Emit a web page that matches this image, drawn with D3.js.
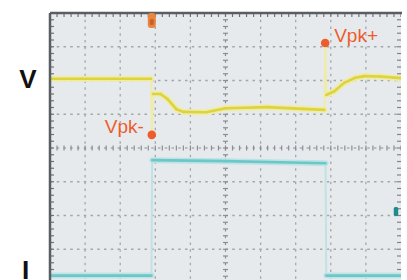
<!DOCTYPE html>
<html>
<head>
<meta charset="utf-8">
<script src="https://cdn.jsdelivr.net/npm/d3@7"></script>
<style>
  body { margin: 0; background: #fff; }
  svg { display: block; }
</style>
</head>
<body>
<script>
const W = 407, H = 280
const plot = {left: 50, right: 401, top: 13, bottom: 283}

// scope divisions: 10 across, 8 down
const divX = [0, 10]
const divY = [-4, 4]

// channel 1 (voltage), time in divisions, level in divisions
const vTime  = [0, 2.88, 2.9, 2.93, 3.15, 3.35, 3.6, 3.8, 4.45, 5.0, 6.2, 7.2, 7.82, 7.84, 7.87, 8.1, 8.38, 8.7, 8.95, 9.4, 10]
const vLevel = [2.05, 2.05, 0.39, 1.6, 1.6, 1.45, 1.15, 1.07, 1.06, 1.18, 1.21, 1.16, 1.13, 3.11, 1.57, 1.68, 1.93, 2.08, 2.13, 2.12, 2.07]

// channel 2 (current)
const iTime  = [0, 2.89, 2.91, 5, 7.85, 7.87, 10]
const iLevel = [-3.78, -3.78, -0.36, -0.39, -0.45, -3.78, -3.78]

// peak markers
const peakNames = ["Vpk-", "Vpk+"]
const peakTime  = [2.9, 7.84]
const peakLevel = [0.39, 3.11]

const orange = '#ee5c2c'

const x = d3.scaleLinear().domain(divX).range([plot.left, plot.right])
const y = d3.scaleLinear().domain(divY).range([plot.bottom, plot.top])

const svg = d3.select('body').append('svg')
  .attr('width', W).attr('height', H)

svg.append('rect').attr('width', W).attr('height', H).attr('fill', '#fff')

const clip = svg.append('clipPath').attr('id', 'clip')
clip.append('rect').attr('x', plot.left).attr('y', plot.top)
  .attr('width', plot.right - plot.left).attr('height', plot.bottom - plot.top)

svg.append('rect')
  .attr('x', plot.left).attr('y', plot.top)
  .attr('width', plot.right - plot.left).attr('height', plot.bottom - plot.top)
  .attr('fill', '#e7eaed')

const g = svg.append('g').attr('clip-path', 'url(#clip)')

// grid: dotted lines on every division
const xt = d3.range(1, 10), yt = d3.range(-3, 4)
const minorX = d3.range(0, 10.01, 0.2), minorY = d3.range(-4, 4.01, 0.2)

g.selectAll('.gx').data(xt.filter(d => d !== 5)).join('line')
  .attr('x1', d => x(d)).attr('x2', d => x(d))
  .attr('y1', plot.top).attr('y2', plot.bottom)
  .attr('stroke', '#a3a7ab').attr('stroke-width', 1.3)
  .attr('stroke-dasharray', '2.5 4.25')
g.selectAll('.gy').data(yt.filter(d => d !== 0)).join('line')
  .attr('y1', d => y(d)).attr('y2', d => y(d))
  .attr('x1', plot.left).attr('x2', plot.right)
  .attr('stroke', '#a3a7ab').attr('stroke-width', 1.3)
  .attr('stroke-dasharray', '2.5 4.25')

// centre lines with minor ticks
g.selectAll('.cx').data(minorY).join('line')
  .attr('x1', x(5) - 2.5).attr('x2', x(5) + 2.5)
  .attr('y1', d => y(d)).attr('y2', d => y(d))
  .attr('stroke', '#8a8e92').attr('stroke-width', 1.2)
g.selectAll('.cy').data(minorX).join('line')
  .attr('y1', y(0) - 2.5).attr('y2', y(0) + 2.5)
  .attr('x1', d => x(d)).attr('x2', d => x(d))
  .attr('stroke', '#8a8e92').attr('stroke-width', 1.2)
g.append('line').attr('x1', x(5)).attr('x2', x(5)).attr('y1', plot.top).attr('y2', plot.bottom)
  .attr('stroke', '#8a8e92').attr('stroke-width', 1.2).attr('stroke-dasharray', '2.5 4.25')
g.append('line').attr('y1', y(0)).attr('y2', y(0)).attr('x1', plot.left).attr('x2', plot.right)
  .attr('stroke', '#8a8e92').attr('stroke-width', 1.2).attr('stroke-dasharray', '2.5 4.25')

// border ticks
g.selectAll('.lt').data(minorY).join('line')
  .attr('x1', plot.left).attr('x2', plot.left + 4)
  .attr('y1', d => y(d)).attr('y2', d => y(d))
  .attr('stroke', '#6f7377').attr('stroke-width', 1.2)
g.selectAll('.rt').data(minorY).join('line')
  .attr('x1', plot.right - 4).attr('x2', plot.right)
  .attr('y1', d => y(d)).attr('y2', d => y(d))
  .attr('stroke', '#80858a').attr('stroke-width', 1.2)
g.selectAll('.tt').data(minorX).join('line')
  .attr('x1', d => x(d)).attr('x2', d => x(d))
  .attr('y1', plot.top).attr('y2', plot.top + 4)
  .attr('stroke', '#6f7377').attr('stroke-width', 1.2)

svg.append('line').attr('x1', plot.left).attr('x2', plot.right + 1)
  .attr('y1', plot.top).attr('y2', plot.top)
  .attr('stroke', '#5a5e62').attr('stroke-width', 2.5)
svg.append('line').attr('x1', plot.left).attr('x2', plot.left)
  .attr('y1', plot.top).attr('y2', H)
  .attr('stroke', '#5a5e62').attr('stroke-width', 2.5)

// traces: slow parts thick with a glow, fast edges thin
function trace(times, levels, color, glow) {
  const pts = times.map((t, i) => [x(t), y(levels[i])])
  const segs = d3.pairs(pts)
  const fast = s => Math.abs(s[1][0] - s[0][0]) < 2
  const line = d3.line()
  g.selectAll(null).data(segs.filter(s => !fast(s))).join('path')
    .attr('d', d => line(d)).attr('fill', 'none')
    .attr('stroke', glow).attr('stroke-width', 6).attr('stroke-linecap', 'round')
  g.selectAll(null).data(segs.filter(fast)).join('path')
    .attr('d', d => line(d)).attr('fill', 'none')
    .attr('stroke', glow).attr('stroke-width', 2)
  g.selectAll(null).data(segs.filter(s => !fast(s))).join('path')
    .attr('d', d => line(d)).attr('fill', 'none')
    .attr('stroke', color).attr('stroke-width', 2.6).attr('stroke-linecap', 'round')
}
trace(vTime, vLevel, '#dcd33e', '#efeca8')
trace(iTime, iLevel, '#6cc7c9', '#bfe3e4')

// trigger marker and channel 2 marker
svg.append('rect').attr('x', x(2.9) - 4).attr('y', plot.top).attr('width', 8).attr('height', 15)
  .attr('rx', 3).attr('fill', '#e8853f')
svg.append('rect').attr('x', x(2.9) - 2).attr('y', plot.top + 6).attr('width', 4).attr('height', 6)
  .attr('rx', 1.5).attr('fill', '#c9622a')
svg.append('rect').attr('x', x(9.85) - 2).attr('y', y(-1.75)).attr('width', 4.5).attr('height', 9)
  .attr('rx', 1.5).attr('fill', '#1f8c8c')

// peak dots and labels
svg.selectAll('.pk').data(peakNames).join('circle')
  .attr('cx', (d, i) => x(peakTime[i])).attr('cy', (d, i) => y(peakLevel[i]))
  .attr('r', 4.3).attr('fill', orange)
svg.selectAll('.pl').data(peakNames).join('text')
  .attr('x', (d, i) => x(peakTime[i]) + (i === 0 ? -8 : 9))
  .attr('y', (d, i) => y(peakLevel[i]) + (i === 0 ? -2 : -1))
  .attr('text-anchor', (d, i) => i === 0 ? 'end' : 'start')
  .attr('font-family', 'Liberation Sans, Arial, sans-serif')
  .attr('font-size', 19).attr('fill', orange)
  .text(d => d)

// channel labels
svg.append('text').attr('x', 28).attr('y', y(2.05) + 9)
  .attr('text-anchor', 'middle').attr('font-family', 'Liberation Sans, Arial, sans-serif')
  .attr('font-size', 26).attr('font-weight', 'bold').attr('fill', '#111').text('V')
svg.append('text').attr('x', 25.5).attr('y', 279)
  .attr('text-anchor', 'middle').attr('font-family', 'Liberation Sans, Arial, sans-serif')
  .attr('font-size', 26).attr('font-weight', 'bold').attr('fill', '#111').text('I')
</script>
</body>
</html>
